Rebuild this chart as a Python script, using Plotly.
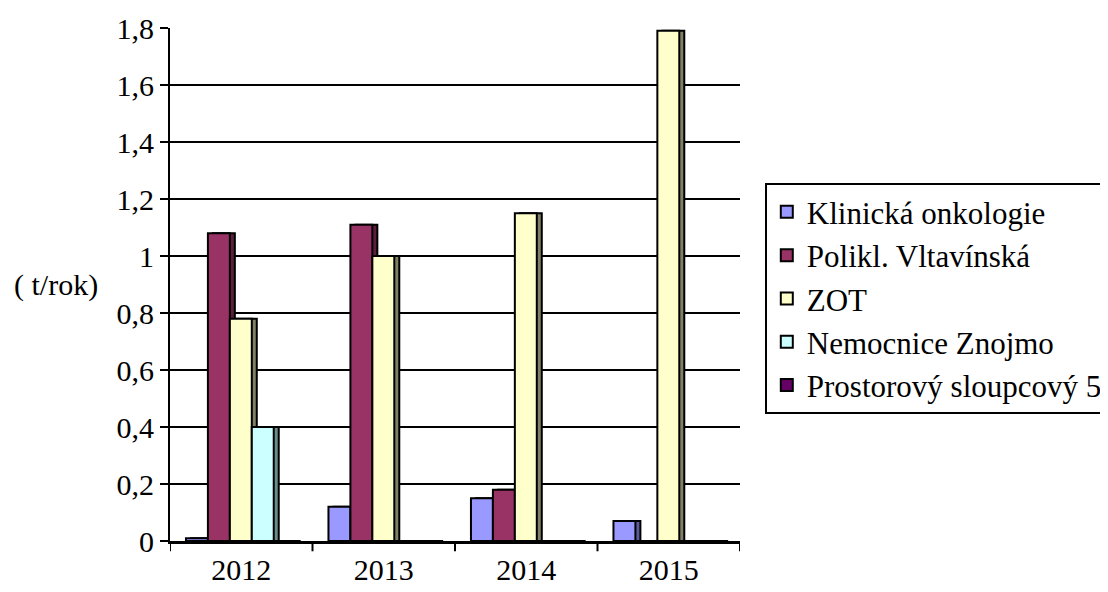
import plotly.graph_objects as go

years = ["2012", "2013", "2014", "2015"]
series_names = ["Klinická onkologie", "Polikl. Vltavínská", "ZOT", "Nemocnice Znojmo", "Prostorový sloupcový 5"]
klinicka = [0.01, 0.12, 0.15, 0.07]
polikl = [1.08, 1.11, 0.18, 0.0]
zot = [0.78, 1.0, 1.15, 1.79]
nemocnice = [0.4, 0.0, 0.0, 0.0]
prostorovy = [0.0, 0.0, 0.0, 0.0]
y_ticks = [0, 0.2, 0.4, 0.6, 0.8, 1.0, 1.2, 1.4, 1.6, 1.8]

values = [klinicka, polikl, zot, nemocnice, prostorovy]
front_colors = ["#9999FF", "#993366", "#FFFFCC", "#CCFFFF", "#660066"]
side_colors = ["#5C5C99", "#5C1F3D", "#808066", "#6B8C8C", "#3D003D"]

x = list(range(len(years)))
bar_w = 0.154
start = -0.5 + 0.112
depth = 0.035

fig = go.Figure()
for j, (name, vals) in enumerate(zip(series_names, values)):
    off = start + j * bar_w
    fig.add_trace(go.Bar(
        x=x, y=vals, offset=off + depth, width=bar_w,
        marker=dict(color=side_colors[j], line=dict(color="black", width=2)),
        showlegend=False, hoverinfo="skip",
    ))
for j, (name, vals) in enumerate(zip(series_names, values)):
    off = start + j * bar_w
    fig.add_trace(go.Bar(
        x=x, y=vals, offset=off, width=bar_w, name=name,
        legendgroup=name,
        marker=dict(color=front_colors[j], line=dict(color="black", width=2)),
    ))

FAM = "Liberation Serif"

def f(size=30):
    return dict(family=FAM, size=size, color="black")

fig.update_layout(
    width=1100, height=584,
    barmode="overlay",
    font=f(),
    paper_bgcolor="white", plot_bgcolor="white",
    margin=dict(l=162, r=368, t=20, b=51, autoexpand=False),
    xaxis=dict(
        range=[-0.5, 3.5], tickvals=x, ticktext=years, automargin=False,
        showgrid=False, showline=True, linecolor="black", linewidth=3,
        ticks="", tickfont=f(), zeroline=False,
    ),
    yaxis=dict(
        range=[0, 1.8], tickvals=y_ticks, automargin=False,
        ticktext=[("%g" % v).replace(".", ",") for v in y_ticks],
        showgrid=True, gridcolor="black", gridwidth=2,
        showline=True, linecolor="black", linewidth=2,
        ticks="outside", ticklen=8, tickcolor="black", tickwidth=2,
        tickfont=f(), zeroline=False,
    ),
    legend=dict(
        xref="container", yref="container",
        x=0.688, y=0.700, xanchor="left", yanchor="top",
        bordercolor="black", borderwidth=2, bgcolor="white",
        font=f(31), tracegroupgap=0, itemwidth=30,
    ),
    showlegend=True,
)

for b in [-0.5, 0.5, 1.5, 2.5, 3.5]:
    fig.add_shape(type="line", xref="x", yref="paper", x0=b, x1=b, y0=0, y1=-0.02,
                  line=dict(color="black", width=2))

fig.add_annotation(text="( t/rok)", xref="paper", yref="paper", x=-0.2, y=0.5,
                   xanchor="center", yanchor="middle", showarrow=False, font=f())

fig.write_html("out.html")
